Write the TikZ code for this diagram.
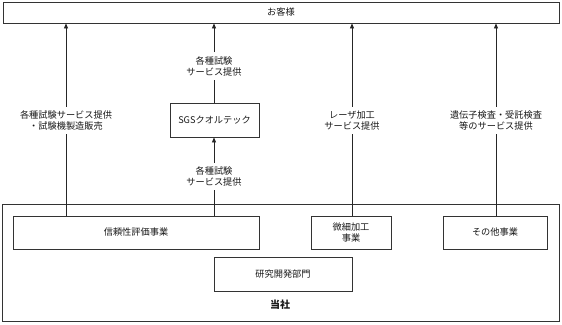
\documentclass[tikz,border=0pt]{standalone}
\usepackage{fontspec}
\setmainfont{Noto Sans CJK JP}
\usetikzlibrary{arrows.meta}
\begin{document}
\begin{tikzpicture}[x=1pt,y=-1pt,
  every node/.style={font=\fontsize{9.2}{11}\selectfont, text=black!90},
  box/.style={draw=black!80, line width=0.8pt, inner sep=0pt, align=center},
  lbl/.style={align=center, fill=white, inner xsep=1.5pt, inner ysep=4pt},
  conn/.style={draw=black!85, line width=0.8pt},
  arr/.style={conn, -{Triangle[length=5pt,width=4pt]}}]
\useasboundingbox (0,0) rectangle (562,324);
% customer box
\node[box, minimum width=556pt, minimum height=21pt] (cust) at (281,12.5) {お客様};
% company outer box
\node[box, minimum width=557pt, minimum height=117pt] (comp) at (280.5,262.5) {};
\node[font=\fontsize{10}{12}\selectfont\bfseries] (compl) at (280,305) {当社};
% inner boxes
\node[box, minimum width=246pt, minimum height=33pt] (reli) at (136,232.5) {信頼性評価事業};
\node[box, minimum width=80pt, minimum height=33pt] (micro) at (351,232.5) {微細加工\\事業};
\node[box, minimum width=104pt, minimum height=33pt] (other) at (495,232.5) {その他事業};
\node[box, minimum width=138pt, minimum height=34pt] (rnd) at (283,274) {研究開発部門};
% SGS box
\node[box, minimum width=89pt, minimum height=34pt] (sgs) at (214.5,120) {SGSクオルテック};
% labels
\node[lbl] (l1) at (66,120.5) {各種試験サービス提供\\・試験機製造販売};
\node[lbl] (l2) at (214,66) {各種試験\\サービス提供};
\node[lbl] (l3) at (214,176.5) {各種試験\\サービス提供};
\node[lbl] (l4) at (352,120.5) {レーザ加工\\サービス提供};
\node[lbl] (l5) at (496,120.5) {遺伝子検査・受託検査\\等のサービス提供};
% connectors
\draw[conn] (reli.north -| l1) -- (l1.south);
\draw[arr] (l1.north) -- (cust.south -| l1);
\draw[conn] (reli.north -| l3) -- (l3.south);
\draw[arr] (l3.north) -- (sgs.south -| l3);
\draw[conn] (sgs.north -| l2) -- (l2.south);
\draw[arr] (l2.north) -- (cust.south -| l2);
\draw[conn] (micro.north -| l4) -- (l4.south);
\draw[arr] (l4.north) -- (cust.south -| l4);
\draw[conn] (other.north -| l5) -- (l5.south);
\draw[arr] (l5.north) -- (cust.south -| l5);
\end{tikzpicture}
\end{document}
